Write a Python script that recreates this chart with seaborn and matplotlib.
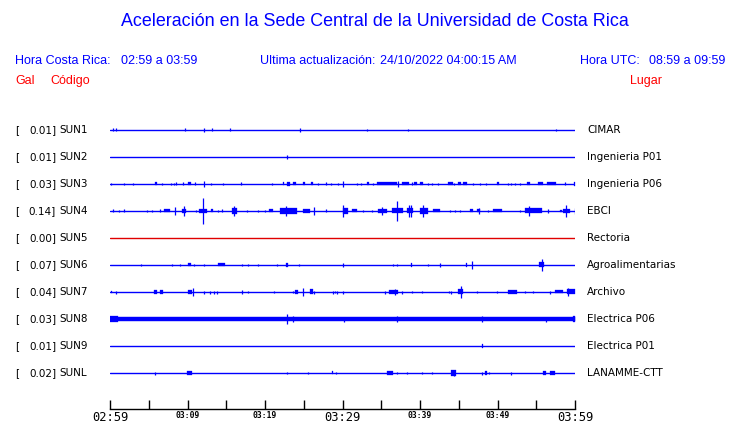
import numpy as np
import pandas as pd
import matplotlib.pyplot as plt
import seaborn as sns

# -------------------------------
# Data (time in minutes after 02:59, deflection in px of the original plot)
# -------------------------------
stations = ["SUN1", "SUN2", "SUN3", "SUN4", "SUN5", "SUN6", "SUN7", "SUN8", "SUN9", "SUNL"]
peaks = ["0.01", "0.01", "0.03", "0.14", "0.00", "0.07", "0.04", "0.03", "0.01", "0.02"]
places = ["CIMAR", "Ingenieria P01", "Ingenieria P06", "EBCI", "Rectoria",
          "Agroalimentarias", "Archivo", "Electrica P06", "Electrica P01", "LANAMME-CTT"]
floors = [0, 0, 0, 0, 0, 0, 0, 1.8, 0, 0]

# (start, end, half amplitude)
sun1 = [(0.4, 0.4, 1.5), (0.8, 0.8, 1.5), (9.7, 9.7, 1.5), (12.1, 12.1, 2), (13.2, 13.2, 1.5),
        (15.5, 15.5, 1.5), (24.5, 24.5, 2), (33.2, 33.2, 1), (38.5, 38.5, 1), (57.6, 57.6, 1)]
sun2 = [(22.8, 22.8, 2)]
sun3 = [(0.1, 0.1, 1), (1.8, 1.8, 1), (3.0, 3.0, 1), (5.8, 6.0, 1.5), (6.7, 6.7, 1), (7.9, 7.9, 1),
        (8.3, 8.3, 1), (8.5, 8.5, 1.5), (9.4, 9.4, 1.5), (10.1, 10.4, 1.5), (11.0, 11.0, 1.5),
        (12.1, 12.1, 3), (13.0, 13.0, 1), (14.6, 14.6, 1), (16.9, 16.9, 1.5), (20.9, 20.9, 1),
        (22.3, 22.5, 1.5), (22.8, 23.2, 2), (23.6, 24.0, 1.5), (24.9, 25.2, 1.5), (25.9, 26.2, 1.5),
        (26.8, 26.8, 1), (27.9, 27.9, 1.5), (28.5, 28.5, 1), (29.4, 29.4, 1), (30.1, 30.1, 3),
        (31.9, 31.9, 1), (32.4, 32.4, 1), (33.2, 33.4, 1.5), (33.9, 33.9, 1), (34.5, 37.0, 1.5),
        (37.2, 37.2, 3), (37.7, 38.6, 1.5), (39.0, 39.0, 1.5), (39.2, 39.6, 1.5), (40.0, 40.4, 1.5),
        (41.0, 41.0, 1), (41.5, 41.5, 1), (42.3, 42.3, 1), (43.6, 44.3, 1.5), (44.4, 44.4, 1),
        (44.9, 45.3, 1.5), (45.5, 46.1, 1.5), (46.8, 46.8, 1), (47.7, 47.7, 1), (48.5, 48.5, 1),
        (49.9, 50.2, 1.5), (51.4, 51.4, 1), (51.8, 51.8, 1), (52.3, 52.3, 1), (52.9, 52.9, 1),
        (53.8, 54.2, 1.5), (55.2, 55.9, 1.5), (56.4, 57.6, 1.5), (58.7, 58.7, 1.5), (59.9, 60.0, 2)]
sun4 = [(0.4, 0.4, 1.5), (1.2, 1.2, 1), (1.8, 1.8, 1.5), (4.8, 4.8, 1), (5.4, 5.4, 1), (6.5, 6.5, 1.5),
        (7.0, 7.7, 1.5), (8.4, 8.4, 4), (9.3, 9.8, 2), (9.5, 9.5, 5), (11.1, 11.1, 1), (11.5, 12.5, 2),
        (12.0, 12.0, 13), (13.0, 13.3, 1.5), (13.9, 13.9, 1), (14.5, 14.5, 1.5), (15.7, 16.4, 3),
        (16.0, 16.0, 5), (17.7, 17.7, 1), (19.1, 19.1, 1), (20.0, 20.0, 1), (20.5, 21.0, 1.5),
        (21.9, 24.1, 3), (22.7, 22.7, 5), (24.9, 25.8, 2), (26.3, 26.3, 4), (27.9, 27.9, 1.5),
        (30.1, 30.7, 3), (30.1, 30.1, 6), (31.2, 31.9, 1.5), (32.6, 32.6, 1), (33.8, 33.8, 1),
        (34.6, 35.7, 2), (35.1, 35.1, 4), (36.4, 37.8, 2.5), (37.0, 37.0, 10), (38.3, 39.1, 2.5),
        (38.6, 38.6, 6), (38.8, 38.8, 6), (40.0, 41.0, 3), (40.4, 40.4, 6), (41.7, 42.6, 1.5),
        (43.9, 43.9, 1), (44.5, 44.5, 1), (45.2, 45.2, 1), (46.5, 46.8, 1.5), (47.4, 47.7, 1.5),
        (47.6, 47.6, 3), (48.8, 48.8, 1), (49.4, 50.6, 1.5), (52.9, 52.9, 1), (53.6, 55.7, 2.5),
        (54.1, 54.1, 5), (56.5, 56.5, 2), (58.1, 58.3, 1), (58.5, 59.4, 2), (58.8, 58.8, 6),
        (60.0, 60.0, 3)]
sun5 = []
sun6 = [(4.0, 4.0, 1.5), (8.0, 8.0, 1), (9.0, 9.0, 1), (10.1, 10.5, 1.5), (10.8, 10.8, 1.5),
        (12.1, 12.1, 1), (13.9, 14.8, 1.5), (17.0, 17.0, 1), (17.8, 17.8, 1), (19.1, 19.1, 1),
        (21.5, 21.5, 1), (22.7, 23.0, 2), (24.4, 24.4, 1.5), (30.1, 30.1, 2), (36.5, 36.5, 1),
        (37.0, 37.0, 1), (38.9, 39.0, 2), (41.0, 41.0, 1), (42.6, 42.6, 2), (45.9, 46.1, 2),
        (46.7, 46.7, 4), (55.3, 56.0, 2.5), (55.7, 55.7, 6)]
sun7 = [(0.1, 0.2, 1), (0.8, 0.8, 1.5), (5.7, 6.1, 2), (6.5, 6.8, 2), (10.1, 10.6, 2), (10.7, 10.7, 4),
        (12.1, 12.1, 1.5), (12.9, 12.9, 1.5), (13.4, 13.4, 1.5), (13.8, 13.8, 1.5), (17.0, 17.0, 2),
        (17.8, 17.8, 1), (21.2, 21.2, 1), (23.6, 23.6, 1), (23.9, 24.3, 2), (24.9, 24.9, 4),
        (25.8, 26.2, 2.5), (26.3, 26.3, 1.5), (28.8, 28.8, 1.5), (29.0, 29.0, 1), (29.3, 29.3, 1.5),
        (30.1, 30.1, 1.5), (35.5, 35.5, 1.5), (36.0, 37.2, 2), (36.8, 36.8, 3), (37.7, 37.7, 1.5),
        (39.0, 39.0, 1), (40.3, 40.3, 1), (43.7, 43.7, 1), (44.0, 44.0, 1.5), (44.9, 45.6, 2.5),
        (45.3, 45.3, 6), (47.4, 47.4, 1), (49.9, 49.9, 1), (51.4, 52.5, 2), (53.6, 53.6, 1),
        (54.6, 54.6, 1), (56.8, 56.8, 1.5), (57.4, 58.5, 1.5), (59.0, 60.0, 2.5), (59.1, 59.1, 4)]
sun8 = [(0.0, 1.0, 3.0), (22.9, 22.9, 5), (23.6, 23.6, 3), (30.2, 30.2, 2.5), (37.0, 37.0, 3),
        (48.0, 48.0, 3), (56.3, 56.3, 2.5), (59.7, 60.0, 3)]
sun9 = [(48.0, 48.1, 2)]
sunl = [(5.8, 5.8, 1.5), (9.9, 10.6, 2), (22.8, 22.8, 1), (25.5, 25.5, 1), (28.7, 28.8, 1.5),
        (29.2, 29.2, 1), (35.7, 36.5, 2), (37.0, 37.0, 1), (38.3, 38.3, 1), (40.3, 40.3, 1),
        (41.6, 41.6, 1), (44.0, 44.7, 2.5), (44.4, 44.4, 3), (48.0, 48.0, 1.5), (48.4, 48.6, 2),
        (48.9, 48.9, 1), (51.7, 51.7, 1.5), (55.9, 56.3, 2), (56.8, 57.4, 2)]
events = [sun1, sun2, sun3, sun4, sun5, sun6, sun7, sun8, sun9, sunl]

tick_minutes = list(range(0, 61, 5))
tick_labels = ["02:59", "", "03:09", "", "03:19", "", "03:29", "", "03:39", "", "03:49", "", "03:59"]

# -------------------------------
# Figure
# -------------------------------
sns.set_style("white")
plt.rcParams['font.family'] = ['DejaVu Sans']
plt.rcParams['text.color'] = 'black'
plt.rcParams['xtick.color'] = 'black'

W, H = 740, 423
fig = plt.figure(figsize=(W / 100, H / 100), dpi=100)
ax = fig.add_axes([110 / W, 14 / H, 465 / W, (409 - 115) / H])

ROW = 27.0  # px between traces
BLUE = "#0000ff"
RED = "#e00000"

base = pd.DataFrame({
    "minute": [0, 60] * len(stations),
    "row": np.repeat(-np.arange(len(stations)), 2),
    "station": np.repeat(stations, 2),
})
palette = {s: (RED if p == "0.00" else BLUE) for s, p in zip(stations, peaks)}
sns.lineplot(data=base, x="minute", y="row", hue="station", palette=palette,
             legend=False, lw=1.0, ax=ax)

for i, (ev, fl) in enumerate(zip(events, floors)):
    y0 = -i
    col = palette[stations[i]]
    if fl > 0:
        ax.fill_between([0, 60], y0 - fl / ROW, y0 + fl / ROW, color=col, lw=0.3)
    for t0, t1, a in ev:
        if t1 > t0:
            ax.fill_between([t0, t1], y0 - a / ROW, y0 + a / ROW, color=col, lw=0.2)
        else:
            ax.vlines(t0, y0 - a / ROW, y0 + a / ROW, color=col, lw=0.9)

ax.set_xlim(0, 60)
ax.set_ylim(-9 - 36 / ROW, 15 / ROW)
for s in ["top", "right", "left"]:
    ax.spines[s].set_visible(False)
ax.spines["bottom"].set_color("black")
ax.spines["bottom"].set_linewidth(1.0)
ax.set_yticks([])
ax.set_xticks(tick_minutes)
ax.set_xticklabels(tick_labels)
ax.tick_params(axis="x", bottom=True, direction="in", length=6.5, width=1.0, color="black",
               pad=1.5, labelcolor="black")
for lab in ax.get_xticklabels():
    big = lab.get_text() in ("02:59", "03:29", "03:59")
    lab.set_family("DejaVu Sans Mono")
    lab.set_fontsize(8.7 if big else 5.8)
    if not big:
        lab.set_fontweight("bold")
ax.set_xlabel("")
ax.set_ylabel("")

# station labels
def fy(py):
    return 1 - py / H

for i in range(len(stations)):
    py = 130 + i * ROW
    fig.text(15 / W, fy(py), "[", fontsize=7.5, va="center", ha="left")
    fig.text(56 / W, fy(py), peaks[i] + "]", fontsize=7.5, va="center", ha="right")
    fig.text(59 / W, fy(py), stations[i], fontsize=7.5, va="center", ha="left")
    fig.text(587 / W, fy(py), places[i], fontsize=7.5, va="center", ha="left")

# header
hf = ["Liberation Sans", "DejaVu Sans"]
fig.text(375 / W, fy(22), "Aceleración en la Sede Central de la Universidad de Costa Rica",
         fontsize=12.9, color=BLUE, ha="center", va="center", family=hf)
fig.text(15 / W, fy(61), "Hora Costa Rica:", fontsize=9, color=BLUE, va="center", family=hf)
fig.text(121 / W, fy(61), "02:59 a 03:59", fontsize=9, color=BLUE, va="center", family=hf)
fig.text(260 / W, fy(61), "Ultima actualización:", fontsize=9, color=BLUE, va="center", family=hf)
fig.text(380 / W, fy(61), "24/10/2022 04:00:15 AM", fontsize=9, color=BLUE, va="center", family=hf)
fig.text(580 / W, fy(61), "Hora UTC:", fontsize=9, color=BLUE, va="center", family=hf)
fig.text(649 / W, fy(61), "08:59 a 09:59", fontsize=9, color=BLUE, va="center", family=hf)
fig.text(15 / W, fy(81), "Gal", fontsize=9, color="#ff0000", va="center", family=hf)
fig.text(50 / W, fy(81), "Código", fontsize=9, color="#ff0000", va="center", family=hf)
fig.text(630 / W, fy(81), "Lugar", fontsize=9, color="#ff0000", va="center", family=hf)

fig.savefig("out.png", dpi=100)
plt.close(fig)
